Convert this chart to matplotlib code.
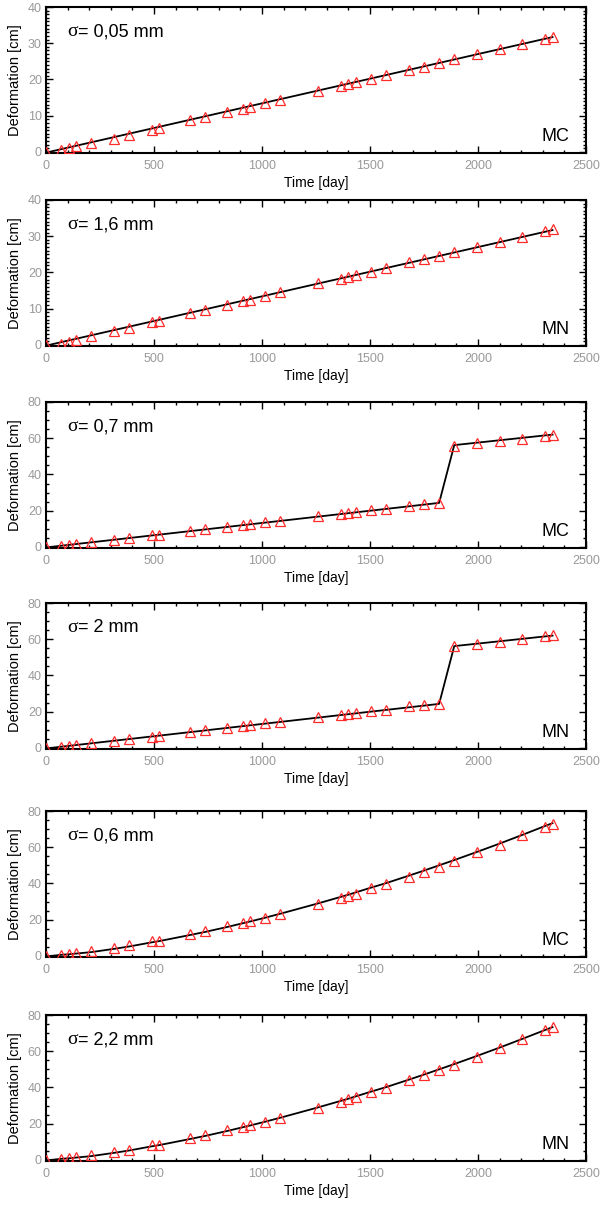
import matplotlib
matplotlib.use("Agg")
import matplotlib.pyplot as plt
from matplotlib.ticker import MultipleLocator
import matplotlib.transforms as mtransforms

plt.rcParams["font.family"] = ["Liberation Sans", "DejaVu Sans"]

# ── acquisition dates (days) ─────────────────────────────────────────────────
days = [0, 70, 105, 140, 210, 315, 385, 490, 525, 665, 735, 840, 910, 945,
        1015, 1085, 1260, 1365, 1400, 1435, 1505, 1575, 1680, 1750, 1820,
        1890, 1995, 2100, 2205, 2310, 2345]

# ── model curves (black lines) ──────────────────────────────────────────────
lin_days = [0, 2345]
lin_model = [-0.2, 31.7]

jump_days = [0, 1820, 1890, 2345]
jump_model = [-0.3, 24.3, 56.2, 62.0]

quad_model = [-0.3, 0.6, 0.9, 1.3, 2.1, 3.9, 5.2, 7.5, 8.2, 11.5, 13.2, 16.0,
              18.0, 19.0, 21.1, 23.3, 29.0, 32.6, 33.8, 35.1, 37.7, 40.2,
              44.3, 47.1, 50.0, 52.9, 57.4, 62.0, 66.8, 71.7, 73.3]

# ── estimated deformation (red triangles) ───────────────────────────────────
est_mc_lin = [0.0, 0.4, 1.0, 1.5, 2.5, 3.7, 4.7, 6.1, 6.7, 8.7, 9.6, 11.0,
              11.9, 12.5, 13.4, 14.4, 16.9, 18.1, 18.7, 19.3, 20.1, 21.1,
              22.6, 23.5, 24.6, 25.6, 27.0, 28.4, 29.7, 31.3, 31.8]
est_mn_lin = [0.0, 0.3, 0.8, 1.4, 2.4, 3.8, 4.8, 6.2, 6.6, 8.9, 9.7, 11.1,
              12.0, 12.4, 13.5, 14.5, 17.0, 18.2, 18.8, 19.2, 20.2, 21.2,
              22.8, 23.6, 24.5, 25.7, 27.1, 28.5, 29.8, 31.4, 31.9]
est_mc_jump = [0.0, 0.7, 1.3, 1.6, 2.6, 3.8, 5.1, 6.4, 6.7, 8.7, 9.8, 11.1,
               12.0, 12.6, 13.5, 14.4, 16.8, 18.2, 18.7, 19.0, 20.2, 21.1,
               22.8, 23.5, 24.2, 55.7, 57.2, 58.5, 59.7, 61.4, 61.9]
est_mn_jump = [0.0, 0.5, 1.1, 1.7, 2.8, 3.9, 5.0, 6.3, 6.8, 8.9, 9.7, 11.2,
               12.1, 12.5, 13.6, 14.5, 17.0, 18.3, 18.6, 19.1, 20.3, 21.2,
               22.9, 23.6, 24.3, 56.0, 57.4, 58.7, 60.0, 61.6, 62.2]
est_mc_quad = [0.0, 0.7, 1.3, 1.6, 2.5, 4.5, 5.9, 8.1, 8.4, 11.9, 13.5, 16.3,
               18.1, 19.0, 21.0, 23.2, 28.9, 32.0, 33.3, 34.4, 37.3, 39.6,
               43.7, 46.6, 49.3, 52.4, 57.2, 61.5, 66.5, 71.4, 73.0]
est_mn_quad = [0.0, 0.5, 1.0, 1.5, 2.6, 4.3, 5.6, 8.0, 8.5, 12.1, 13.6, 16.4,
               18.3, 19.2, 21.2, 23.4, 28.7, 32.2, 33.5, 34.6, 37.4, 39.8,
               43.9, 46.8, 49.5, 52.6, 56.8, 61.8, 66.6, 71.6, 73.3]

sigma_labels = ["0,05 mm", "1,6 mm", "0,7 mm", "2 mm", "0,6 mm", "2,2 mm"]
method_labels = ["MC", "MN", "MC", "MN", "MC", "MN"]

panels = [
    (lin_days, lin_model, est_mc_lin, 40),
    (lin_days, lin_model, est_mn_lin, 40),
    (jump_days, jump_model, est_mc_jump, 80),
    (jump_days, jump_model, est_mn_jump, 80),
    (days, quad_model, est_mc_quad, 80),
    (days, quad_model, est_mn_quad, 80),
]

W, H = 600, 1205
fig = plt.figure(figsize=(W / 100, H / 100), dpi=100)

# bottoms of each panel in pixels, measured from the top of the image
bottoms_px = [153, 346, 548, 749, 957, 1161]
left_px, right_px, height_px = 46, 586, 146

for i, (mx, my, est, ytop) in enumerate(panels):
    b = bottoms_px[i]
    ax = fig.add_axes([left_px / W, (H - b) / H,
                       (right_px - left_px) / W, height_px / H])
    ax.plot(mx, my, color="black", linewidth=1.3, zorder=2)
    ax.plot(days, est, linestyle="none", marker="^", markersize=6.5,
            markerfacecolor="none", markeredgecolor="#ff2a2a",
            markeredgewidth=0.9, zorder=3)

    ax.set_xlim(0, 2500)
    ax.set_ylim(-0.3 if ytop == 40 else -0.6, ytop)
    ax.xaxis.set_major_locator(MultipleLocator(500))
    ax.xaxis.set_minor_locator(MultipleLocator(100))
    if ytop == 40:
        ax.yaxis.set_major_locator(MultipleLocator(10))
        ax.yaxis.set_minor_locator(MultipleLocator(1))
    else:
        ax.yaxis.set_major_locator(MultipleLocator(20))
        ax.yaxis.set_minor_locator(MultipleLocator(5))

    ax.tick_params(which="both", direction="in", top=True, right=True,
                   width=1.0, colors="black", labelcolor="#999999",
                   labelsize=9)
    ax.tick_params(which="major", length=5)
    ax.tick_params(which="minor", length=2.5)
    ax.tick_params(axis="x", pad=5)
    ax.tick_params(axis="y", pad=3)
    for sp in ax.spines.values():
        sp.set_linewidth(1.5)

    ax.set_xlabel("Time [day]", fontsize=10, labelpad=3)
    ax.set_ylabel("Deformation [cm]", fontsize=10.5, labelpad=4)

    # sigma annotation: serif sigma followed by sans text
    ax.text(0.039, 0.83, "\u03c3", transform=ax.transAxes, fontsize=14,
            family=["Liberation Serif", "DejaVu Serif"], va="center",
            ha="left")
    off = mtransforms.offset_copy(ax.transAxes, fig=fig, x=11, y=0,
                                  units="dots")
    ax.text(0.039, 0.83, "= " + sigma_labels[i], transform=off,
            fontsize=13, va="center", ha="left")
    ax.text(0.969, 0.116, method_labels[i], transform=ax.transAxes,
            fontsize=13, va="center", ha="right")

fig.savefig("out.png", dpi=100)
